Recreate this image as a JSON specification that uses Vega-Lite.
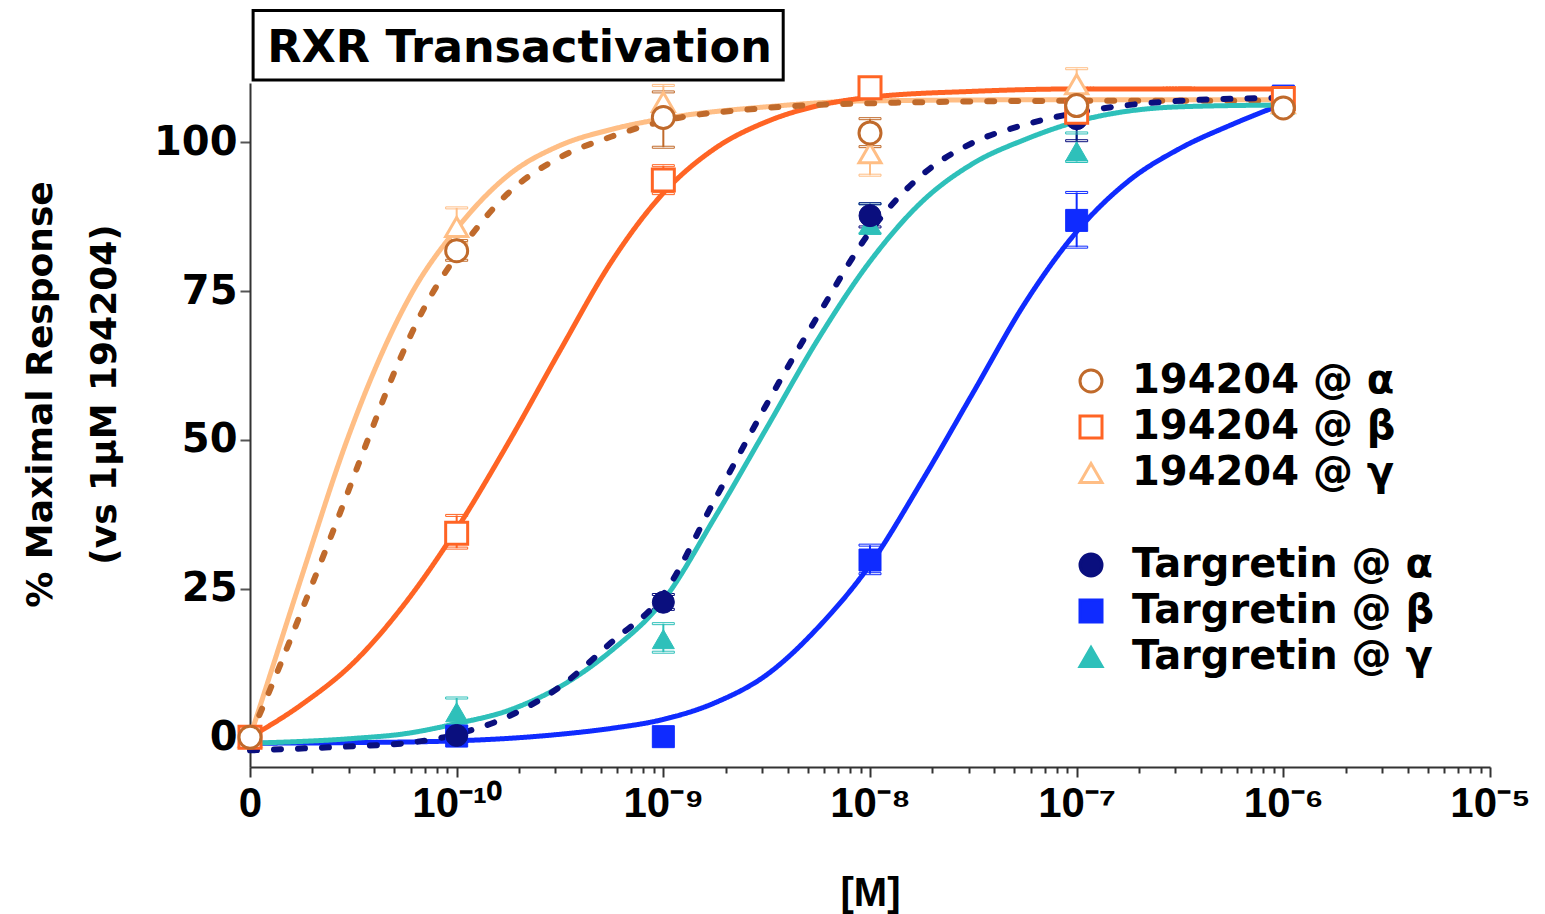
{
  "$schema": "https://vega.github.io/schema/vega-lite/v6.json",
  "width": 1240,
  "height": 684,
  "autosize": {"type": "none"},
  "padding": {"left": 250, "top": 83, "right": 55, "bottom": 147},
  "background": "white",
  "config": {"view": {"stroke": null}, "font": "DejaVu Sans"},
  "datasets": {
    "pts": [
      {"drug": "194204", "series": "194204 @ γ", "x": -11, "y": 0},
      {"drug": "194204", "series": "194204 @ γ", "x": -10, "y": 85.8, "lo": 83, "hi": 89},
      {"drug": "194204", "series": "194204 @ γ", "x": -9, "y": 106.8, "lo": 104.3, "hi": 109.6},
      {"drug": "194204", "series": "194204 @ γ", "x": -8, "y": 98.2, "lo": 94.5, "hi": 101.8},
      {"drug": "194204", "series": "194204 @ γ", "x": -7, "y": 109.8, "lo": 107.3, "hi": 112.4},
      {"drug": "194204", "series": "194204 @ γ", "x": -6, "y": 106.6},
      {"drug": "194204", "series": "194204 @ β", "x": -11, "y": 0},
      {"drug": "194204", "series": "194204 @ β", "x": -10, "y": 34.3, "lo": 31.8, "hi": 37.3},
      {"drug": "194204", "series": "194204 @ β", "x": -9, "y": 93.7, "lo": 91.4, "hi": 96.1},
      {"drug": "194204", "series": "194204 @ β", "x": -8, "y": 109.2, "lo": 108.5, "hi": 110},
      {"drug": "194204", "series": "194204 @ β", "x": -7, "y": 105.1, "lo": 104, "hi": 106.2},
      {"drug": "194204", "series": "194204 @ β", "x": -6, "y": 107.4},
      {"drug": "194204", "series": "194204 @ α", "x": -11, "y": 0},
      {"drug": "194204", "series": "194204 @ α", "x": -10, "y": 81.8, "lo": 80.2, "hi": 83.5},
      {"drug": "194204", "series": "194204 @ α", "x": -9, "y": 104.2, "lo": 99.2, "hi": 108.5},
      {"drug": "194204", "series": "194204 @ α", "x": -8, "y": 101.6, "lo": 99.3, "hi": 104},
      {"drug": "194204", "series": "194204 @ α", "x": -7, "y": 106.2, "lo": 105.2, "hi": 107.2},
      {"drug": "194204", "series": "194204 @ α", "x": -6, "y": 105.8},
      {"drug": "Targretin", "series": "Targretin @ β", "x": -10, "y": 0.2},
      {"drug": "Targretin", "series": "Targretin @ β", "x": -9, "y": 0.1},
      {"drug": "Targretin", "series": "Targretin @ β", "x": -8, "y": 29.8, "lo": 27.5, "hi": 32.3},
      {"drug": "Targretin", "series": "Targretin @ β", "x": -7, "y": 86.9, "lo": 82.4, "hi": 91.6},
      {"drug": "Targretin", "series": "Targretin @ β", "x": -6, "y": 107.8, "lo": 106.8, "hi": 108.8},
      {"drug": "Targretin", "series": "Targretin @ γ", "x": -10, "y": 4.2, "lo": 1.9, "hi": 6.6},
      {"drug": "Targretin", "series": "Targretin @ γ", "x": -9, "y": 16.5, "lo": 14.3, "hi": 19.1},
      {"drug": "Targretin", "series": "Targretin @ γ", "x": -8, "y": 86.3, "lo": 84.7, "hi": 89.7},
      {"drug": "Targretin", "series": "Targretin @ γ", "x": -7, "y": 98.5, "lo": 96.8, "hi": 101.6},
      {"drug": "Targretin", "series": "Targretin @ γ", "x": -6, "y": 106.3},
      {"drug": "Targretin", "series": "Targretin @ α", "x": -10, "y": 0.3},
      {"drug": "Targretin", "series": "Targretin @ α", "x": -9, "y": 22.7, "lo": 21.5, "hi": 24},
      {"drug": "Targretin", "series": "Targretin @ α", "x": -8, "y": 87.7, "lo": 85.8, "hi": 89.7},
      {"drug": "Targretin", "series": "Targretin @ α", "x": -7, "y": 104, "lo": 100.3, "hi": 106.5},
      {"drug": "Targretin", "series": "Targretin @ α", "x": -6, "y": 106.3}
    ],
    "curves": [
      {"series": "194204 @ γ", "x": -11, "y": 0},
      {"series": "194204 @ γ", "x": -10.875, "y": 13.5},
      {"series": "194204 @ γ", "x": -10.75, "y": 27},
      {"series": "194204 @ γ", "x": -10.53, "y": 50},
      {"series": "194204 @ γ", "x": -10.4, "y": 61.5},
      {"series": "194204 @ γ", "x": -10.22, "y": 74.5},
      {"series": "194204 @ γ", "x": -10, "y": 85.5},
      {"series": "194204 @ γ", "x": -9.75, "y": 94.5},
      {"series": "194204 @ γ", "x": -9.5, "y": 99.5},
      {"series": "194204 @ γ", "x": -9.25, "y": 102.2},
      {"series": "194204 @ γ", "x": -9, "y": 104},
      {"series": "194204 @ γ", "x": -8.5, "y": 106},
      {"series": "194204 @ γ", "x": -8, "y": 107},
      {"series": "194204 @ γ", "x": -7, "y": 107.2},
      {"series": "194204 @ γ", "x": -6, "y": 107.2},
      {"series": "194204 @ β", "x": -11, "y": 0},
      {"series": "194204 @ β", "x": -10.75, "y": 5.5},
      {"series": "194204 @ β", "x": -10.5, "y": 12.5},
      {"series": "194204 @ β", "x": -10.25, "y": 22.5},
      {"series": "194204 @ β", "x": -10, "y": 35},
      {"series": "194204 @ β", "x": -9.75, "y": 49.5},
      {"series": "194204 @ β", "x": -9.5, "y": 65},
      {"series": "194204 @ β", "x": -9.25, "y": 80},
      {"series": "194204 @ β", "x": -9, "y": 91.5},
      {"series": "194204 @ β", "x": -8.75, "y": 99},
      {"series": "194204 @ β", "x": -8.5, "y": 103.5},
      {"series": "194204 @ β", "x": -8.25, "y": 106.2},
      {"series": "194204 @ β", "x": -8, "y": 107.6},
      {"series": "194204 @ β", "x": -7.5, "y": 108.6},
      {"series": "194204 @ β", "x": -7, "y": 109},
      {"series": "194204 @ β", "x": -6, "y": 109},
      {"series": "194204 @ α", "x": -11, "y": 0},
      {"series": "194204 @ α", "x": -10.85, "y": 12.5},
      {"series": "194204 @ α", "x": -10.73, "y": 23},
      {"series": "194204 @ α", "x": -10.6, "y": 34.5},
      {"series": "194204 @ α", "x": -10.43, "y": 50},
      {"series": "194204 @ α", "x": -10.3, "y": 61.5},
      {"series": "194204 @ α", "x": -10.16, "y": 72},
      {"series": "194204 @ α", "x": -10, "y": 81},
      {"series": "194204 @ α", "x": -9.75, "y": 91.5},
      {"series": "194204 @ α", "x": -9.5, "y": 97.5},
      {"series": "194204 @ α", "x": -9.25, "y": 101},
      {"series": "194204 @ α", "x": -9, "y": 103.6},
      {"series": "194204 @ α", "x": -8.5, "y": 105.8},
      {"series": "194204 @ α", "x": -8, "y": 106.6},
      {"series": "194204 @ α", "x": -7, "y": 107},
      {"series": "194204 @ α", "x": -6, "y": 107},
      {"series": "Targretin @ β", "x": -11, "y": -1},
      {"series": "Targretin @ β", "x": -10.5, "y": -0.9},
      {"series": "Targretin @ β", "x": -10, "y": -0.6},
      {"series": "Targretin @ β", "x": -9.5, "y": 0.5},
      {"series": "Targretin @ β", "x": -9.25, "y": 1.5},
      {"series": "Targretin @ β", "x": -9, "y": 3},
      {"series": "Targretin @ β", "x": -8.75, "y": 5.8},
      {"series": "Targretin @ β", "x": -8.5, "y": 10.5},
      {"series": "Targretin @ β", "x": -8.25, "y": 18.5},
      {"series": "Targretin @ β", "x": -8, "y": 29},
      {"series": "Targretin @ β", "x": -7.75, "y": 43},
      {"series": "Targretin @ β", "x": -7.5, "y": 58},
      {"series": "Targretin @ β", "x": -7.25, "y": 73},
      {"series": "Targretin @ β", "x": -7, "y": 85},
      {"series": "Targretin @ β", "x": -6.75, "y": 93.5},
      {"series": "Targretin @ β", "x": -6.5, "y": 99},
      {"series": "Targretin @ β", "x": -6.25, "y": 103},
      {"series": "Targretin @ β", "x": -6, "y": 106.5},
      {"series": "Targretin @ γ", "x": -11, "y": -1},
      {"series": "Targretin @ γ", "x": -10.5, "y": -0.2},
      {"series": "Targretin @ γ", "x": -10.25, "y": 0.6},
      {"series": "Targretin @ γ", "x": -10, "y": 2.3},
      {"series": "Targretin @ γ", "x": -9.75, "y": 4.5},
      {"series": "Targretin @ γ", "x": -9.5, "y": 8.5},
      {"series": "Targretin @ γ", "x": -9.25, "y": 14.6},
      {"series": "Targretin @ γ", "x": -9, "y": 23},
      {"series": "Targretin @ γ", "x": -8.75, "y": 37},
      {"series": "Targretin @ γ", "x": -8.5, "y": 52},
      {"series": "Targretin @ γ", "x": -8.25, "y": 67},
      {"series": "Targretin @ γ", "x": -8, "y": 80},
      {"series": "Targretin @ γ", "x": -7.75, "y": 90},
      {"series": "Targretin @ γ", "x": -7.5, "y": 96.5},
      {"series": "Targretin @ γ", "x": -7.25, "y": 100.5},
      {"series": "Targretin @ γ", "x": -7, "y": 103.5},
      {"series": "Targretin @ γ", "x": -6.5, "y": 106},
      {"series": "Targretin @ γ", "x": -6, "y": 106.3},
      {"series": "Targretin @ α", "x": -11, "y": -2.2},
      {"series": "Targretin @ α", "x": -10.5, "y": -1.5},
      {"series": "Targretin @ α", "x": -10.25, "y": -1},
      {"series": "Targretin @ α", "x": -10, "y": 0.5},
      {"series": "Targretin @ α", "x": -9.75, "y": 3.5},
      {"series": "Targretin @ α", "x": -9.5, "y": 8.5},
      {"series": "Targretin @ α", "x": -9.25, "y": 16},
      {"series": "Targretin @ α", "x": -9, "y": 24},
      {"series": "Targretin @ α", "x": -8.75, "y": 40},
      {"series": "Targretin @ α", "x": -8.5, "y": 56},
      {"series": "Targretin @ α", "x": -8.25, "y": 71},
      {"series": "Targretin @ α", "x": -8, "y": 85},
      {"series": "Targretin @ α", "x": -7.75, "y": 94.5},
      {"series": "Targretin @ α", "x": -7.5, "y": 100},
      {"series": "Targretin @ α", "x": -7.25, "y": 103},
      {"series": "Targretin @ α", "x": -7, "y": 105},
      {"series": "Targretin @ α", "x": -6.5, "y": 107},
      {"series": "Targretin @ α", "x": -6, "y": 107.5}
    ]
  },
  "layer": [
    {
      "data": {"values": [{}]},
      "mark": {"type": "rect", "fill": "white", "stroke": "black", "strokeWidth": 3},
      "encoding": {
        "x": {"datum": -10.985, "type": "quantitative", "scale": {"domain": [-11, -5], "zero": false, "nice": false}},
        "x2": {"datum": -8.42},
        "y": {"datum": 122.2, "type": "quantitative", "scale": {"domain": [-5, 110], "zero": false, "nice": false}},
        "y2": {"datum": 110.5}
      }
    },
    {
      "data": {"values": [{}]},
      "mark": {"type": "text", "text": "RXR Transactivation", "font": "DejaVu Sans", "fontSize": 44.5, "fontWeight": "bold", "color": "black", "align": "left", "baseline": "alphabetic"},
      "encoding": {
        "x": {"datum": -10.917, "type": "quantitative", "scale": {"domain": [-11, -5], "zero": false, "nice": false}},
        "y": {"datum": 113.6, "type": "quantitative", "scale": {"domain": [-5, 110], "zero": false, "nice": false}}
      }
    },
    {
      "data": {"name": "pts"},
      "transform": [{"filter": "isValid(datum.lo)"}],
      "mark": {"type": "rule", "strokeWidth": 2},
      "encoding": {
        "x": {"field": "x", "type": "quantitative", "scale": {"domain": [-11, -5], "zero": false, "nice": false}},
        "y": {"field": "lo", "type": "quantitative", "scale": {"domain": [-5, 110], "zero": false, "nice": false}},
        "y2": {"field": "hi"},
        "color": {"field": "series", "type": "nominal", "legend": null,
                  "scale": {"domain": ["194204 @ α", "194204 @ β", "194204 @ γ", "Targretin @ α", "Targretin @ β", "Targretin @ γ"],
                            "range": ["#C06A2B", "#FF6424", "#FFBE85", "#0A0F7E", "#0F2BFF", "#2EC0BA"]}}
      }
    },
    {
      "data": {"name": "pts"},
      "transform": [{"filter": "isValid(datum.lo)"}],
      "mark": {"type": "tick", "orient": "horizontal", "size": 22, "thickness": 2, "opacity": 1, "filled": false},
      "encoding": {
        "x": {"field": "x", "type": "quantitative", "scale": {"domain": [-11, -5], "zero": false, "nice": false}},
        "y": {"field": "lo", "type": "quantitative", "scale": {"domain": [-5, 110], "zero": false, "nice": false}},
        "color": {"field": "series", "type": "nominal", "legend": null,
                  "scale": {"domain": ["194204 @ α", "194204 @ β", "194204 @ γ", "Targretin @ α", "Targretin @ β", "Targretin @ γ"],
                            "range": ["#C06A2B", "#FF6424", "#FFBE85", "#0A0F7E", "#0F2BFF", "#2EC0BA"]}}
      }
    },
    {
      "data": {"name": "pts"},
      "transform": [{"filter": "isValid(datum.hi)"}],
      "mark": {"type": "tick", "orient": "horizontal", "size": 22, "thickness": 2, "opacity": 1, "filled": false},
      "encoding": {
        "x": {"field": "x", "type": "quantitative", "scale": {"domain": [-11, -5], "zero": false, "nice": false}},
        "y": {"field": "hi", "type": "quantitative", "scale": {"domain": [-5, 110], "zero": false, "nice": false}},
        "color": {"field": "series", "type": "nominal", "legend": null,
                  "scale": {"domain": ["194204 @ α", "194204 @ β", "194204 @ γ", "Targretin @ α", "Targretin @ β", "Targretin @ γ"],
                            "range": ["#C06A2B", "#FF6424", "#FFBE85", "#0A0F7E", "#0F2BFF", "#2EC0BA"]}}
      }
    },
    {
      "data": {"name": "curves"},
      "mark": {"type": "line", "interpolate": "monotone", "strokeCap": "round"},
      "encoding": {
        "x": {
          "field": "x", "type": "quantitative",
          "scale": {"domain": [-11, -5], "zero": false, "nice": false},
          "axis": {
            "title": "[M]", "titleFont": "Liberation Sans", "titleFontSize": 40, "titleFontWeight": "bold", "titleColor": "black",
            "titleX": 620, "titleY": 138, "titleBaseline": "alphabetic", "titleAlign": "center",
            "tickCount": 200,
            "values": [-11, -10.69897, -10.52288, -10.39794, -10.30103, -10.22185, -10.1549, -10.09691, -10.04576,
                       -10, -9.69897, -9.52288, -9.39794, -9.30103, -9.22185, -9.1549, -9.09691, -9.04576,
                       -9, -8.69897, -8.52288, -8.39794, -8.30103, -8.22185, -8.1549, -8.09691, -8.04576,
                       -8, -7.69897, -7.52288, -7.39794, -7.30103, -7.22185, -7.1549, -7.09691, -7.04576,
                       -7, -6.69897, -6.52288, -6.39794, -6.30103, -6.22185, -6.1549, -6.09691, -6.04576,
                       -6, -5.69897, -5.52288, -5.39794, -5.30103, -5.22185, -5.1549, -5.09691, -5.04576, -5],
            "labelExpr": "datum.value === -11 ? '0' : datum.value === -10 ? '10⁻¹⁰' : datum.value === -9 ? '10⁻⁹' : datum.value === -8 ? '10⁻⁸' : datum.value === -7 ? '10⁻⁷' : datum.value === -6 ? '10⁻⁶' : datum.value === -5 ? '10⁻⁵' : ''",
            "labelFont": "Liberation Sans", "labelFontSize": 42, "labelFontWeight": "bold", "labelColor": "black",
            "labelPadding": 6, "labelOverlap": false, "labelFlush": false, "labelBound": false,
            "tickSize": {"condition": {"test": "abs(datum.value - round(datum.value)) < 0.001", "value": 10}, "value": 6},
            "tickColor": "#333", "tickWidth": 2, "domainColor": "#333", "domainWidth": 2, "grid": false
          }
        },
        "y": {
          "field": "y", "type": "quantitative",
          "scale": {"domain": [-5, 110], "zero": false, "nice": false},
          "axis": {
            "title": ["% Maximal Response", "(vs 1μM 194204)"],
            "titleFont": "DejaVu Sans", "titleFontSize": 36, "titleFontWeight": "bold", "titleColor": "black",
            "titleAngle": -90, "titleX": -210, "titleY": 311, "titleAlign": "center", "titleBaseline": "middle", "titleLineHeight": 64,
            "values": [0, 25, 50, 75, 100],
            "labelFont": "DejaVu Sans", "labelFontSize": 40, "labelFontWeight": "bold", "labelColor": "black",
            "labelPadding": 3, "tickSize": 10, "tickColor": "#555", "tickWidth": 2,
            "domainColor": "#333", "domainWidth": 2, "grid": false
          }
        },
        "color": {"field": "series", "type": "nominal", "legend": null,
                  "scale": {"domain": ["194204 @ α", "194204 @ β", "194204 @ γ", "Targretin @ α", "Targretin @ β", "Targretin @ γ"],
                            "range": ["#C06A2B", "#FF6424", "#FFBE85", "#0A0F7E", "#0F2BFF", "#2EC0BA"]}},
        "strokeDash": {"condition": {"test": "indexof(datum.series, 'α') >= 0", "value": [7, 17]}, "value": [1, 0]},
        "strokeWidth": {"condition": {"test": "indexof(datum.series, 'α') >= 0", "value": 6}, "value": 5}
      }
    },
    {
      "data": {"name": "pts"},
      "transform": [{"filter": "datum.drug === 'Targretin'"}],
      "mark": {"type": "point", "filled": true, "size": 484, "opacity": 1, "strokeWidth": 1},
      "encoding": {
        "x": {"field": "x", "type": "quantitative", "scale": {"domain": [-11, -5], "zero": false, "nice": false}},
        "y": {"field": "y", "type": "quantitative", "scale": {"domain": [-5, 110], "zero": false, "nice": false}},
        "fill": {
          "field": "series", "type": "nominal",
          "scale": {"domain": ["194204 @ α", "194204 @ β", "194204 @ γ", " ", "Targretin @ α", "Targretin @ β", "Targretin @ γ"],
                    "range": ["white", "white", "white", "transparent", "#0A0F7E", "#0F2BFF", "#2EC0BA"]},
          "legend": {"title": null, "orient": "none", "legendX": 821, "legendY": 278, "padding": 0,
                     "labelFont": "DejaVu Sans", "labelFontSize": 40, "labelFontWeight": "bold", "labelColor": "black",
                     "labelLimit": 1000, "labelOffset": 21, "symbolSize": 484, "symbolStrokeWidth": 3, "rowPadding": 6}
        },
        "stroke": {
          "field": "series", "type": "nominal",
          "scale": {"domain": ["194204 @ α", "194204 @ β", "194204 @ γ", " ", "Targretin @ α", "Targretin @ β", "Targretin @ γ"],
                    "range": ["#C06A2B", "#FF6424", "#FFBE85", "transparent", "#0A0F7E", "#0F2BFF", "#2EC0BA"]},
          "legend": {"title": null, "orient": "none", "legendX": 821, "legendY": 278, "padding": 0,
                     "labelFont": "DejaVu Sans", "labelFontSize": 40, "labelFontWeight": "bold", "labelColor": "black",
                     "labelLimit": 1000, "labelOffset": 21, "symbolSize": 484, "symbolStrokeWidth": 3, "rowPadding": 6}
        },
        "shape": {
          "field": "series", "type": "nominal",
          "scale": {"domain": ["194204 @ α", "194204 @ β", "194204 @ γ", " ", "Targretin @ α", "Targretin @ β", "Targretin @ γ"],
                    "range": ["circle", "square", "triangle-up", "circle", "circle", "square", "triangle-up"]},
          "legend": {"title": null, "orient": "none", "legendX": 821, "legendY": 278, "padding": 0,
                     "labelFont": "DejaVu Sans", "labelFontSize": 40, "labelFontWeight": "bold", "labelColor": "black",
                     "labelLimit": 1000, "labelOffset": 21, "symbolSize": 484, "symbolStrokeWidth": 3, "rowPadding": 6}
        }
      }
    },
    {
      "data": {"name": "pts"},
      "transform": [{"filter": "datum.drug === '194204'"}],
      "mark": {"type": "point", "filled": true, "size": 484, "opacity": 1, "strokeWidth": 3},
      "encoding": {
        "x": {"field": "x", "type": "quantitative", "scale": {"domain": [-11, -5], "zero": false, "nice": false}},
        "y": {"field": "y", "type": "quantitative", "scale": {"domain": [-5, 110], "zero": false, "nice": false}},
        "fill": {
          "field": "series", "type": "nominal",
          "scale": {"domain": ["194204 @ α", "194204 @ β", "194204 @ γ", " ", "Targretin @ α", "Targretin @ β", "Targretin @ γ"],
                    "range": ["white", "white", "white", "transparent", "#0A0F7E", "#0F2BFF", "#2EC0BA"]},
          "legend": {"title": null, "orient": "none", "legendX": 821, "legendY": 278, "padding": 0,
                     "labelFont": "DejaVu Sans", "labelFontSize": 40, "labelFontWeight": "bold", "labelColor": "black",
                     "labelLimit": 1000, "labelOffset": 21, "symbolSize": 484, "symbolStrokeWidth": 3, "rowPadding": 6}
        },
        "stroke": {
          "field": "series", "type": "nominal",
          "scale": {"domain": ["194204 @ α", "194204 @ β", "194204 @ γ", " ", "Targretin @ α", "Targretin @ β", "Targretin @ γ"],
                    "range": ["#C06A2B", "#FF6424", "#FFBE85", "transparent", "#0A0F7E", "#0F2BFF", "#2EC0BA"]},
          "legend": {"title": null, "orient": "none", "legendX": 821, "legendY": 278, "padding": 0,
                     "labelFont": "DejaVu Sans", "labelFontSize": 40, "labelFontWeight": "bold", "labelColor": "black",
                     "labelLimit": 1000, "labelOffset": 21, "symbolSize": 484, "symbolStrokeWidth": 3, "rowPadding": 6}
        },
        "shape": {
          "field": "series", "type": "nominal",
          "scale": {"domain": ["194204 @ α", "194204 @ β", "194204 @ γ", " ", "Targretin @ α", "Targretin @ β", "Targretin @ γ"],
                    "range": ["circle", "square", "triangle-up", "circle", "circle", "square", "triangle-up"]},
          "legend": {"title": null, "orient": "none", "legendX": 821, "legendY": 278, "padding": 0,
                     "labelFont": "DejaVu Sans", "labelFontSize": 40, "labelFontWeight": "bold", "labelColor": "black",
                     "labelLimit": 1000, "labelOffset": 21, "symbolSize": 484, "symbolStrokeWidth": 3, "rowPadding": 6}
        }
      }
    }
  ]
}
